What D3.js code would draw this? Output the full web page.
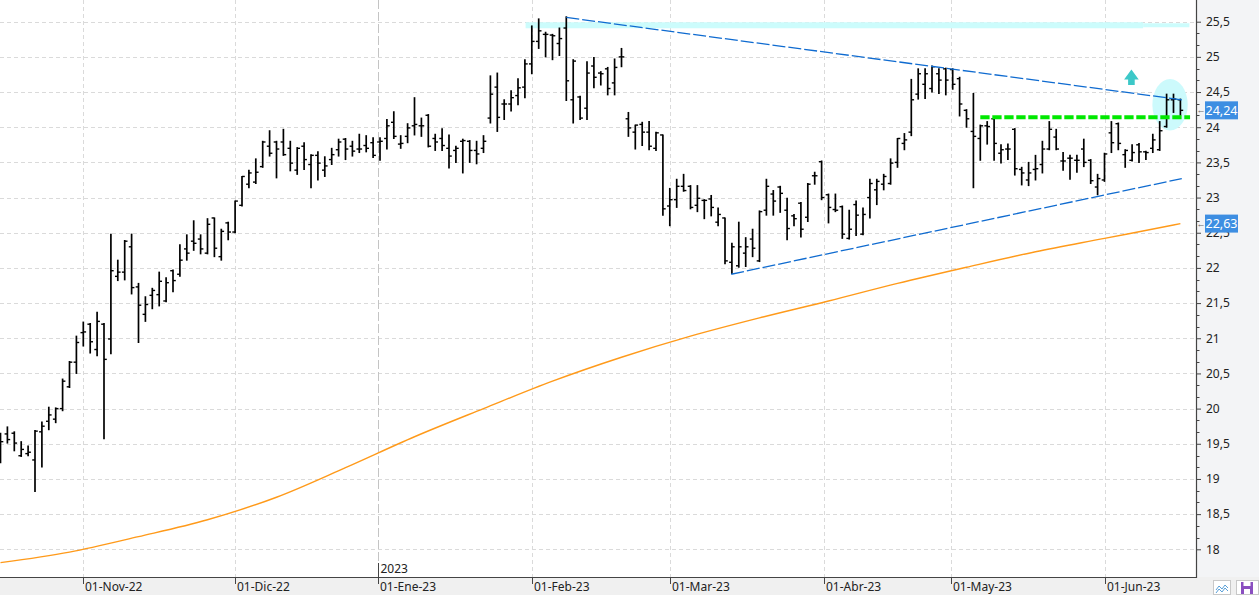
<!DOCTYPE html>
<html>
<head>
<meta charset="utf-8">
<script src="https://cdn.jsdelivr.net/npm/d3@7"></script>
<style>
html, body { margin: 0; padding: 0; background: #fff; overflow: hidden; }
svg { display: block; font-family: "Noto Sans", "Open Sans", sans-serif; }
</style>
</head>
<body>
<svg id="chart" width="1259" height="595"></svg>
<script>
// sesiones: del 14-oct-22 al 16-jun-23, sin fines de semana ni festivos
const firstDay = "2022-10-14";
const lastDay = "2023-06-16";
const holidays = ["2022-12-26", "2023-04-07", "2023-04-10", "2023-05-01"];

const opens = [
  19.55, 19.64, 19.65, 19.33, 19.36, 19.27, 19.67, 19.82, 19.85, 20.00,
  20.31, 20.66, 21.08, 21.20, 20.84, 21.20, 20.99, 21.88, 21.94, 22.30,
  21.73, 21.34, 21.61, 21.62, 21.53, 21.96, 21.91, 22.27, 22.38, 22.41,
  22.21, 22.71, 22.16, 22.64, 22.51, 22.89, 23.19, 23.22, 23.44, 23.73,
  23.79, 23.79, 23.70, 23.39, 23.73, 23.47, 23.60, 23.39, 23.54, 23.68,
  23.83, 23.73, 23.69, 23.74, 23.78, 23.79, 23.84, 24.07, 23.76, 23.87,
  24.02, 24.02, 24.17, 23.84, 23.84, 23.70, 23.67, 23.80, 23.80, 23.67,
  23.70, 24.13, 24.57, 24.33, 24.33, 24.45, 24.57, 24.90, 25.22, 25.32,
  25.31, 25.19, 25.41, 24.39, 24.43, 24.27, 24.87, 24.77, 24.83, 24.63,
  25.00, 24.12, 23.93, 24.04, 23.93, 23.70, 23.89, 22.88, 22.97, 23.16,
  23.16, 22.89, 22.96, 22.98, 22.65, 22.71, 22.08, 22.03, 22.21, 22.41,
  22.10, 22.82, 23.05, 23.15, 22.82, 22.74, 22.92, 22.72, 23.31, 23.51,
  23.04, 22.83, 22.87, 22.42, 22.90, 22.48, 23.00, 23.11, 23.19, 23.20,
  23.50, 23.77, 23.93, 24.47, 24.61, 24.55, 24.76, 24.83, 24.82, 24.69,
  24.24, 23.94, 23.84, 24.02, 24.12, 23.63, 23.69, 23.97, 23.40, 23.25,
  23.40, 23.47, 23.69, 23.86, 23.52, 23.56, 23.53, 23.69, 23.53, 23.15,
  23.25, 23.92, 24.05, 23.61, 23.53, 23.75, 23.65, 23.70, 23.68, 24.01,
  24.39, 24.39
];
const highs = [
  19.65, 19.74, 19.67, 19.53, 19.47, 19.69, 19.81, 20.02, 20.01, 20.42,
  20.67, 21.03, 21.23, 21.21, 21.37, 21.21, 22.48, 22.11, 22.39, 22.48,
  21.78, 21.59, 21.71, 21.94, 21.86, 21.97, 22.33, 22.47, 22.67, 22.47,
  22.70, 22.71, 22.55, 22.65, 22.95, 23.30, 23.39, 23.55, 23.80, 23.95,
  23.80, 23.97, 23.80, 23.71, 23.78, 23.61, 23.65, 23.58, 23.70, 23.83,
  23.84, 23.80, 23.90, 23.88, 23.85, 23.85, 24.11, 24.22, 23.88, 24.05,
  24.42, 24.13, 24.18, 23.90, 23.98, 23.89, 23.73, 23.83, 23.81, 23.80,
  23.88, 24.73, 24.77, 24.39, 24.52, 24.69, 24.96, 25.44, 25.54, 25.35,
  25.32, 25.41, 25.57, 24.96, 24.44, 24.93, 24.99, 24.79, 24.85, 24.97,
  25.12, 24.21, 24.03, 24.07, 24.08, 23.93, 23.89, 23.13, 23.26, 23.33,
  23.17, 23.17, 22.97, 23.03, 22.85, 22.71, 22.35, 22.65, 22.43, 22.55,
  22.81, 23.26, 23.10, 23.16, 22.99, 22.76, 22.93, 23.20, 23.36, 23.52,
  23.05, 23.05, 22.88, 22.82, 22.95, 22.85, 23.26, 23.26, 23.33, 23.55,
  23.84, 23.91, 24.68, 24.83, 24.83, 24.87, 24.83, 24.84, 24.83, 24.71,
  24.25, 24.48, 24.03, 24.08, 24.13, 23.75, 23.76, 23.98, 23.43, 23.50,
  23.60, 23.80, 24.08, 23.97, 23.64, 23.60, 23.60, 23.83, 23.54, 23.33,
  23.63, 24.08, 24.06, 23.68, 23.75, 23.77, 23.66, 23.90, 24.08, 24.47,
  24.47, 24.40
];
const lows = [
  19.23, 19.51, 19.40, 19.32, 19.33, 18.82, 19.17, 19.70, 19.80, 19.97,
  20.30, 20.50, 20.89, 20.79, 20.75, 19.57, 20.78, 21.82, 21.83, 21.63,
  20.94, 21.24, 21.42, 21.46, 21.52, 21.66, 21.88, 22.11, 22.25, 22.20,
  22.20, 22.16, 22.11, 22.40, 22.50, 22.88, 23.14, 23.20, 23.43, 23.59,
  23.28, 23.60, 23.38, 23.33, 23.40, 23.14, 23.25, 23.30, 23.47, 23.59,
  23.54, 23.59, 23.64, 23.65, 23.57, 23.53, 23.69, 23.84, 23.70, 23.78,
  23.89, 23.87, 23.72, 23.67, 23.67, 23.42, 23.50, 23.35, 23.50, 23.48,
  23.64, 24.06, 23.94, 24.11, 24.23, 24.32, 24.42, 24.76, 25.12, 25.00,
  24.96, 25.02, 24.38, 24.06, 24.11, 24.11, 24.56, 24.60, 24.46, 24.46,
  24.86, 23.87, 23.69, 23.74, 23.68, 23.67, 22.75, 22.60, 22.86, 23.09,
  22.84, 22.80, 22.70, 22.74, 22.60, 22.06, 21.92, 22.01, 22.02, 22.16,
  22.09, 22.75, 22.75, 22.79, 22.40, 22.60, 22.44, 22.66, 23.19, 22.97,
  22.64, 22.80, 22.42, 22.41, 22.46, 22.47, 22.71, 22.90, 23.11, 23.19,
  23.43, 23.68, 23.88, 24.40, 24.41, 24.50, 24.48, 24.46, 24.54, 24.16,
  24.00, 23.14, 23.53, 23.76, 23.53, 23.49, 23.54, 23.32, 23.18, 23.17,
  23.25, 23.35, 23.68, 23.68, 23.39, 23.26, 23.36, 23.44, 23.20, 23.04,
  23.23, 23.64, 23.68, 23.43, 23.52, 23.50, 23.54, 23.64, 23.67, 24.00,
  24.21, 24.17
];
const closes = [
  19.53, 19.56, 19.51, 19.42, 19.38, 19.68, 19.75, 19.91, 20.00, 20.39,
  20.66, 20.94, 21.09, 20.95, 21.24, 20.70, 21.96, 21.94, 22.38, 21.72,
  21.47, 21.48, 21.68, 21.81, 21.79, 21.82, 22.11, 22.21, 22.35, 22.27,
  22.62, 22.28, 22.52, 22.51, 22.95, 23.30, 23.35, 23.36, 23.79, 23.63,
  23.69, 23.61, 23.49, 23.70, 23.54, 23.60, 23.49, 23.45, 23.61, 23.79,
  23.69, 23.66, 23.69, 23.70, 23.60, 23.80, 24.02, 23.87, 23.77, 23.99,
  24.04, 24.02, 23.73, 23.79, 23.74, 23.59, 23.70, 23.81, 23.67, 23.62,
  23.80, 24.47, 24.14, 24.33, 24.42, 24.56, 24.90, 25.22, 25.37, 25.32,
  25.30, 25.26, 24.66, 24.94, 24.13, 24.77, 24.71, 24.76, 24.55, 24.85,
  25.00, 23.99, 24.03, 23.93, 23.73, 23.92, 22.84, 22.97, 23.16, 23.10,
  22.86, 22.99, 22.96, 22.86, 22.76, 22.10, 22.30, 22.30, 22.30, 22.28,
  22.80, 23.16, 22.95, 23.06, 22.56, 22.70, 22.55, 23.19, 23.31, 23.00,
  22.86, 22.82, 22.48, 22.55, 22.75, 22.76, 23.20, 23.23, 23.30, 23.49,
  23.84, 23.82, 24.39, 24.76, 24.76, 24.86, 24.67, 24.67, 24.61, 24.33,
  24.12, 23.87, 24.02, 24.01, 23.77, 23.68, 23.69, 23.41, 23.35, 23.35,
  23.41, 23.69, 23.97, 23.69, 23.52, 23.56, 23.53, 23.50, 23.24, 23.27,
  23.62, 23.78, 23.77, 23.67, 23.64, 23.65, 23.64, 23.82, 23.95, 24.39,
  24.40, 24.24
];

// media movil larga (naranja), leida cada 10 sesiones
const maIndex  = [0, 10, 20, 30, 40, 50, 60, 70, 80, 90, 100, 110, 120, 130, 140, 150, 160, 170, 171];
const maValues = [17.81, 17.96, 18.18, 18.42, 18.74, 19.16, 19.60, 20.00, 20.39, 20.73,
                  21.03, 21.29, 21.53, 21.78, 22.01, 22.23, 22.42, 22.61, 22.63];

// lineas dibujadas a mano: [indice sesion, precio]
const upperTrend = [[82, 25.56], [171.2, 24.39]];
const lowerTrend = [[105.9, 21.91], [171.2, 23.27]];
const resistance = [[142, 24.14], [172.4, 24.14]];
const topBand    = [[76.1, 165.6, 25.45], [165.6, 172.3, 25.45]];
const circleMark = { i: 169.5, v: 24.32, ri: 2.56, rv: 0.365 };
const arrowMark  = { i: 163.9, tip: 24.82, base: 24.68, foot: 24.60, head: 1.06, stem: 0.48 };

const lastPrice = 24.24;
const lastMA = 22.63;

const yTicks = d3.range(18, 25.51, 0.5);
const monthStarts = ["2022-11-01", "2022-12-01", "2023-01-01", "2023-02-01", "2023-03-01", "2023-04-01", "2023-05-01", "2023-06-01"];
const monthNames = ["Nov", "Dic", "Ene", "Feb", "Mar", "Abr", "May", "Jun"];
const yearMark = "2023-01-01";

const W = 1259, H = 595;
const plotRight = 1196, plotBottom = 577;

const parse = d3.utcParse("%Y-%m-%d");
const iso = d3.utcFormat("%Y-%m-%d");
const dates = d3.utcDays(parse(firstDay), d3.utcDay.offset(parse(lastDay), 1))
  .filter(d => d.getUTCDay() % 6 !== 0 && !holidays.includes(iso(d)));

// posicion (fraccionaria) de una fecha entre sesiones
const fracIndex = d => {
  const i = d3.bisectLeft(dates, d);
  if (+dates[i] === +d) return i;
  const a = dates[i - 1], b = dates[i];
  return i - 1 + (d - a) / (b - a);
};

const x = d3.scaleLinear().domain([0, dates.length - 1]).range([0.5, 1180.4]);
const y = d3.scaleLinear().domain([18, 25.5]).range([549.3, 21.7]);
const barStep = x(1) - x(0);

const svg = d3.select("#chart");

// fondos de los ejes
svg.append("rect").attr("x", plotRight).attr("y", 0).attr("width", W - plotRight).attr("height", plotBottom).attr("fill", "#f3f4f6");
svg.append("rect").attr("x", 0).attr("y", plotBottom).attr("width", W).attr("height", H - plotBottom).attr("fill", "#f0f0f0");

const plot = svg.append("g");

// rejilla
plot.append("g").selectAll("line").data(yTicks).join("line")
  .attr("x1", 0).attr("x2", plotRight)
  .attr("y1", d => Math.round(y(d)) + 0.5).attr("y2", d => Math.round(y(d)) + 0.5)
  .attr("stroke", "#dadada").attr("stroke-dasharray", "4,3");

const monthPos = monthStarts.map(s => fracIndex(parse(s)));
const yearPos = fracIndex(parse(yearMark));
plot.append("g").selectAll("line").data(monthPos).join("line")
  .attr("x1", d => Math.round(x(d)) + 0.5).attr("x2", d => Math.round(x(d)) + 0.5)
  .attr("y1", 0).attr("y2", plotBottom)
  .attr("stroke", d => d === yearPos ? "#c4c4c4" : "#dadada")
  .attr("stroke-dasharray", d => d === yearPos ? "9,3" : "4,3");

// banda cian superior
plot.append("g").selectAll("line").data(topBand).join("line")
  .attr("x1", d => x(d[0])).attr("x2", d => x(d[1]))
  .attr("y1", d => y(d[2])).attr("y2", d => y(d[2]))
  .attr("stroke", "#ccfcfc").attr("stroke-width", (d, i) => i === 0 ? 6 : 4);

// elipse de la ultima zona
plot.append("ellipse")
  .attr("cx", x(circleMark.i)).attr("cy", y(circleMark.v))
  .attr("rx", circleMark.ri * barStep).attr("ry", y(circleMark.v - circleMark.rv) - y(circleMark.v))
  .attr("fill", "#ccfafc");

// media movil
const maLine = d3.line().x(d => x(d[0])).y(d => y(d[1])).curve(d3.curveMonotoneX);
plot.append("path")
  .datum(maIndex.map((i, k) => [i, maValues[k]]))
  .attr("d", maLine).attr("fill", "none").attr("stroke", "#ff9a1a").attr("stroke-width", 1.4);

// barras OHLC
const bars = plot.append("g").attr("stroke", "#000").attr("stroke-width", 1.7);
dates.forEach((d, i) => {
  const cx = x(i);
  bars.append("line").attr("x1", cx).attr("x2", cx).attr("y1", y(highs[i]) - 0.5).attr("y2", y(lows[i]) + 0.5);
  bars.append("line").attr("x1", cx - 2.8).attr("x2", cx).attr("y1", y(opens[i])).attr("y2", y(opens[i])).attr("stroke-width", 1.4);
  bars.append("line").attr("x1", cx).attr("x2", cx + 2.8).attr("y1", y(closes[i])).attr("y2", y(closes[i])).attr("stroke-width", 1.4);
});

// lineas de tendencia
const seg = d3.line().x(d => x(d[0])).y(d => y(d[1]));
[upperTrend, lowerTrend].forEach(t => {
  plot.append("path").datum(t).attr("d", seg)
    .attr("fill", "none").attr("stroke", "#0f6bd0").attr("stroke-width", 1.3).attr("stroke-dasharray", "13,3");
});

// resistencia verde
plot.append("path").datum(resistance).attr("d", seg)
  .attr("fill", "none").attr("stroke", "#00e800").attr("stroke-width", 4).attr("stroke-dasharray", "9.3,2.7");

// flecha
const ax = x(arrowMark.i);
const hw = arrowMark.head * barStep, sw = arrowMark.stem * barStep;
plot.append("path")
  .attr("d", `M${ax},${y(arrowMark.tip)} L${ax + hw},${y(arrowMark.base)} L${ax + sw},${y(arrowMark.base)} L${ax + sw},${y(arrowMark.foot)} L${ax - sw},${y(arrowMark.foot)} L${ax - sw},${y(arrowMark.base)} L${ax - hw},${y(arrowMark.base)} Z`)
  .attr("fill", "#3cc8c8");

// eje de precios
const fmtComma = d => d3.format(".2~f")(d).replace(".", ",");
const yAxis = svg.append("g").attr("transform", `translate(${plotRight},0)`)
  .call(d3.axisRight(y).tickValues(yTicks).tickSize(5).tickPadding(5).tickFormat(fmtComma));
yAxis.select(".domain").remove();
yAxis.selectAll("line").attr("stroke", "#444");
yAxis.selectAll("text").attr("font-size", 12).attr("fill", "#222").attr("font-family", "Noto Sans, sans-serif");

const minor = d3.range(18, 25.6, 1 / 6).filter(v => Math.abs(v * 2 - Math.round(v * 2)) > 0.01 && y(v) < plotBottom);
svg.append("g").selectAll("line").data(minor).join("line")
  .attr("x1", plotRight).attr("x2", plotRight + 3.5)
  .attr("y1", d => Math.round(y(d)) + 0.5).attr("y2", d => Math.round(y(d)) + 0.5)
  .attr("stroke", "#444");

svg.append("line").attr("x1", plotRight + 0.5).attr("x2", plotRight + 0.5).attr("y1", 0).attr("y2", plotBottom + 1)
  .attr("stroke", "#444").attr("stroke-width", 1.2);

// etiquetas de ultimo valor
[[lastPrice, "24,24"], [lastMA, "22,63"]].forEach(([v, t]) => {
  const cy = y(v);
  svg.append("rect").attr("x", 1205).attr("y", cy - 9).attr("width", 33).attr("height", 18).attr("fill", "#3d8ee2");
  svg.append("text").attr("x", 1221.5).attr("y", cy + 4.5).attr("text-anchor", "middle")
    .attr("font-size", 12.5).attr("fill", "#fff").text(t);
  svg.append("text").attr("x", 1196.5).attr("y", cy + 3).attr("font-size", 9).attr("fill", "#666").text("←");
});

// eje de fechas
svg.append("line").attr("x1", 0).attr("x2", plotRight + 1).attr("y1", plotBottom + 0.5).attr("y2", plotBottom + 0.5)
  .attr("stroke", "#444").attr("stroke-width", 1.2);
const fmtYY = d3.utcFormat("%y");
const xt = svg.append("g");
monthStarts.forEach((s, k) => {
  const px = Math.round(x(monthPos[k])) + 0.5;
  xt.append("line").attr("x1", px).attr("x2", px).attr("y1", plotBottom).attr("y2", plotBottom + 7).attr("stroke", "#444");
  xt.append("text").attr("x", px + 1.5).attr("y", 591).attr("font-size", 12).attr("fill", "#222")
    .text(`01-${monthNames[k]}-${fmtYY(parse(s))}`);
});
const yearX = Math.round(x(yearPos)) + 0.5;
xt.append("line").attr("x1", yearX).attr("x2", yearX).attr("y1", plotBottom - 14).attr("y2", plotBottom).attr("stroke", "#444");
xt.append("text").attr("x", yearX + 2).attr("y", 572.5).attr("font-size", 12).attr("fill", "#222")
  .text(d3.utcFormat("%Y")(parse(yearMark)));

// botones de la esquina
const btn = svg.append("g");
btn.append("rect").attr("x", 1213.5).attr("y", 580.5).attr("width", 17).attr("height", 14).attr("fill", "#fff").attr("stroke", "#c8c8c8");
btn.append("path").attr("d", "M1216,590 l3,-4 l3,3 l3,-4 l3,3 M1216,593 l3,-4 l3,3 l3,-4 l3,3")
  .attr("fill", "none").attr("stroke", "#5aa0d8").attr("stroke-width", 1);
btn.append("rect").attr("x", 1236.5).attr("y", 580.5).attr("width", 22).attr("height", 14).attr("fill", "#fff").attr("stroke", "#c8c8c8");
btn.append("rect").attr("x", 1241).attr("y", 582).attr("width", 12).attr("height", 12).attr("fill", "#8a4fc0");
btn.append("rect").attr("x", 1243.5).attr("y", 582).attr("width", 7).attr("height", 4).attr("fill", "#fff");
btn.append("rect").attr("x", 1244).attr("y", 589).attr("width", 6).attr("height", 5).attr("fill", "#fff");
</script>
</body>
</html>
